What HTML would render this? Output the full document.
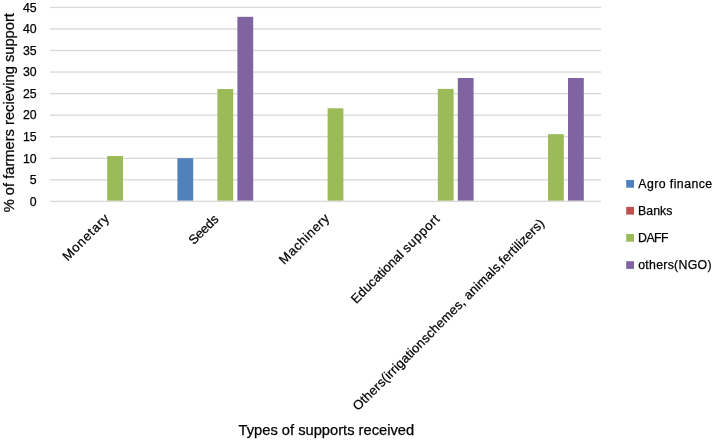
<!DOCTYPE html>
<html><head><meta charset="utf-8"><title>Types of supports received</title><style>
html,body{margin:0;padding:0;background:#fff;}
body{width:713px;height:440px;overflow:hidden;position:relative;}
svg{position:absolute;left:0;top:0;display:block;}
text{font-family:"Liberation Sans",sans-serif;fill:#000;stroke:#000;stroke-width:0.25px;}
.txt{filter:grayscale(1);}
.t{font-size:12.3px;}
.c{font-size:13px;}
.ti{font-size:14.7px;}
.lg{font-size:12.3px;}
</style></head><body>
<svg width="713" height="440" viewBox="0 0 713 440">
<g>
<rect x="50" y="179.179" width="551" height="1.33" fill="#D9D9D9"/>
<rect x="50" y="157.623" width="551" height="1.33" fill="#D9D9D9"/>
<rect x="50" y="136.067" width="551" height="1.33" fill="#D9D9D9"/>
<rect x="50" y="114.511" width="551" height="1.33" fill="#D9D9D9"/>
<rect x="50" y="92.955" width="551" height="1.33" fill="#D9D9D9"/>
<rect x="50" y="71.399" width="551" height="1.33" fill="#D9D9D9"/>
<rect x="50" y="49.843" width="551" height="1.33" fill="#D9D9D9"/>
<rect x="50" y="28.287" width="551" height="1.33" fill="#D9D9D9"/>
<rect x="50" y="6.731" width="551" height="1.33" fill="#D9D9D9"/>
<rect x="107.20" y="156.00" width="15.8" height="44.75" fill="#9BBB59"/>
<rect x="177.40" y="158.20" width="15.8" height="42.55" fill="#4F81BD"/>
<rect x="217.40" y="89.00" width="15.8" height="111.75" fill="#9BBB59"/>
<rect x="237.40" y="16.80" width="15.8" height="183.95" fill="#8064A2"/>
<rect x="327.60" y="108.30" width="15.8" height="92.45" fill="#9BBB59"/>
<rect x="437.80" y="88.90" width="15.8" height="111.85" fill="#9BBB59"/>
<rect x="457.80" y="78.00" width="15.8" height="122.75" fill="#8064A2"/>
<rect x="548.00" y="134.20" width="15.8" height="66.55" fill="#9BBB59"/>
<rect x="568.00" y="78.00" width="15.8" height="122.75" fill="#8064A2"/>
<rect x="50" y="200.735" width="551" height="1.33" fill="#D9D9D9"/>
<rect x="626.2" y="180.00" width="7.8" height="7.7" fill="#4F81BD"/>
<rect x="626.2" y="206.90" width="7.8" height="7.7" fill="#C0504D"/>
<rect x="626.2" y="234.00" width="7.8" height="7.7" fill="#9BBB59"/>
<rect x="626.2" y="261.20" width="7.8" height="7.7" fill="#8064A2"/>
</g>
<g class="txt">
<text x="36.6" y="205.70" text-anchor="end" class="t">0</text>
<text x="36.6" y="184.14" text-anchor="end" class="t">5</text>
<text x="36.6" y="162.59" text-anchor="end" class="t">10</text>
<text x="36.6" y="141.03" text-anchor="end" class="t">15</text>
<text x="36.6" y="119.48" text-anchor="end" class="t">20</text>
<text x="36.6" y="97.92" text-anchor="end" class="t">25</text>
<text x="36.6" y="76.36" text-anchor="end" class="t">30</text>
<text x="36.6" y="54.81" text-anchor="end" class="t">35</text>
<text x="36.6" y="33.25" text-anchor="end" class="t">40</text>
<text x="36.6" y="11.70" text-anchor="end" class="t">45</text>
<text transform="translate(85.65,237.40) rotate(-45)" y="4.3" text-anchor="middle" textLength="59.62" lengthAdjust="spacing" class="c">Monetary</text>
<text transform="translate(203.40,229.55) rotate(-45)" y="4.3" text-anchor="middle" textLength="36.15" lengthAdjust="spacing" class="c">Seeds</text>
<text transform="translate(304.15,239.05) rotate(-45)" y="4.3" text-anchor="middle" textLength="64.64" lengthAdjust="spacing" class="c">Machinery</text>
<text transform="translate(395.25,259.00) rotate(-45)" x="-59.57" y="4.3" textLength="68.37" lengthAdjust="spacing" class="c">Educational</text>
<text transform="translate(395.25,259.00) rotate(-45)" x="59.57" y="4.3" text-anchor="end" textLength="46.97" lengthAdjust="spacing" class="c">support</text>
<text transform="translate(448.55,314.75) rotate(-45)" y="4.3" text-anchor="middle" textLength="264.58" lengthAdjust="spacing" class="c">Others(irrigationschemes, animals,fertilizers)</text>
<text transform="translate(13.5,212.3) rotate(-90)" class="ti">% of farmers recieving support</text>
<text x="238.60" y="434.78" textLength="175.50" lengthAdjust="spacing" class="ti">Types of supports received</text>
<text x="638.30" y="187.96" textLength="73.80" lengthAdjust="spacing" class="lg">Agro finance</text>
<text x="638.10" y="215.36" textLength="34.30" lengthAdjust="spacing" class="lg">Banks</text>
<text x="638.10" y="241.96" textLength="30.50" lengthAdjust="spacing" class="lg">DAFF</text>
<text x="638.20" y="268.76" textLength="73.30" lengthAdjust="spacing" class="lg">others(NGO)</text>
</g>
</svg>
</body></html>
